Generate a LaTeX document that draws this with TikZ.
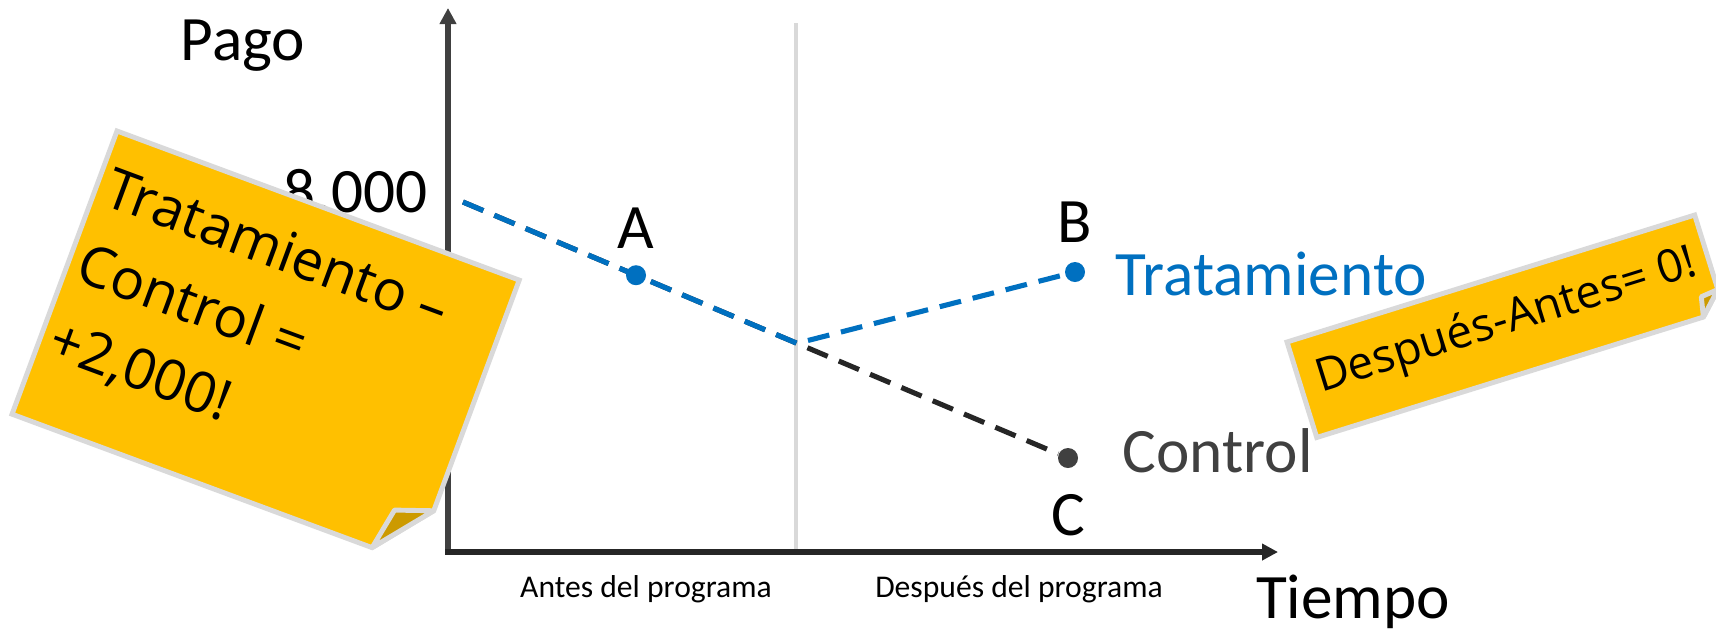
\documentclass[tikz,border=0pt]{standalone}
\usepackage{fontspec}
\setmainfont{Carlito}
\newfontfamily\notefont{Open Sans}
\usepackage{tikz}
\usetikzlibrary{calc,arrows.meta,backgrounds,positioning}
\definecolor{tratblue}{HTML}{0070C0}
\definecolor{axisgray}{HTML}{404040}
\definecolor{ctrlblack}{HTML}{262626}
\definecolor{sepgray}{HTML}{D9D9D9}
\definecolor{notegold}{HTML}{FFC000}
\definecolor{flapgold}{HTML}{CC9A00}
\tikzset{
%Define standard arrow tip
>={Triangle[length=0.16cm,width=0.16cm]},
%Define style for different line styles
axis/.style={->, line width=1.6pt, line cap=rect, axisgray},
period line/.style={line width=1.1pt, sepgray},
treat line/.style={line width=1.45pt, tratblue, dash pattern=on 0.22cm off 0.12cm},
control line/.style={line width=1.45pt, ctrlblack, dash pattern=on 0.22cm off 0.12cm},
dot/.style={circle, inner sep=0pt, minimum size=0.2cm},
%Define style for the texts
big label/.style={inner sep=0pt, font=\fontsize{18}{22}\selectfont},
small label/.style={inner sep=0pt, font=\fontsize{9}{11}\selectfont},
%Sticky notes
sticky/.style={fill=notegold, draw=sepgray, line width=1.4pt, line join=miter},
flap/.style={fill=flapgold, draw=sepgray, line width=1.4pt, line join=round},
note text/.style={inner sep=0pt, align=left},
}

\begin{document}
\begin{tikzpicture}[scale=1.0]
    \useasboundingbox (-4.48,-0.76) rectangle (12.68,5.52);
    %Draw axis
    \coordinate (o) at (0,0);
    \coordinate (y) at (0,5.44);
    \coordinate (x) at (8.30,0);
    \draw[axis] (o) -- (y);
    \draw[axis, ctrlblack] (o) -- (x);
    %Line between before and after
    \coordinate (septop) at (3.48,5.29);
    \coordinate (sepbot) at (3.48,0.03);

    \node[big label, anchor=base] (pago) at (-2.05,4.92) {Pago};
    \node[big label, anchor=base east] (ocho) at (-0.20,3.40) {8,000};
    \node[big label, anchor=base] (tiempo) at (9.05,-0.66) {Tiempo};
    \node[small label, anchor=base] (antes) at (1.98,-0.45) {Antes del programa};
    \node[small label, anchor=base] (despues) at (5.71,-0.45) {Después del programa};

    %%The three points, A and C lie on the control line
    \coordinate (start) at (0.15,3.50);
    \node[dot, fill=axisgray] (cpt) at (6.20,0.94) {};
    \coordinate (kink) at ($(start)!0.552!(cpt)$);
    \node[dot, fill=tratblue] (apt) at ($(start)!0.286!(cpt)$) {};
    \node[dot, fill=tratblue] (bpt) at (6.27,2.80) {};
    \node[big label, above=0.15cm of apt] (alab) {A};
    \node[big label, above=0.18cm of bpt] (blab) {B};
    \node[big label, below=0.25cm of cpt] (clab) {C};
    \node[big label, anchor=base west, text=tratblue] (trat) at (6.67,2.57) {Tratamiento};
    \node[big label, anchor=base west, text=axisgray] (ctrl) at (6.74,0.80) {Control};

    \begin{scope}[on background layer]
    \draw[period line] (sepbot) -- (septop);
    \draw[control line] (start) -- (cpt);
    \draw[treat line] (start) -- (apt.center) -- (kink) -- (bpt.center);
    \end{scope}

    %%%%%%%%%%%%%%%%%%%%%%
    %Sticky notes
    %%%%%%%%%%%%%%%%%%%%%%
    %%Left
    \begin{scope}[shift={(-3.31,4.21)}, rotate=-20.34, transform shape]
    \draw[sticky] (0,0) -- (4.29,0) -- (4.29,-2.46) -- (3.84,-3.02) -- (0,-3.02) -- cycle;
    \draw[flap] (4.29,-2.46) -- (3.92,-2.59) -- (3.84,-3.02) -- cycle;
    \node[note text, anchor=north west, font=\notefont\fontsize{16}{23}\selectfont] (ldiff) at (0.10,-0.32)
    {Tratamiento –\\Control =\\+2,000!};
    \end{scope}
    %%Right
    \begin{scope}[shift={(8.39,2.10)}, rotate=17.3, transform shape]
    \draw[sticky] (0,0) -- (4.27,0) -- (4.27,-0.78) -- (4.05,-1.00) -- (0,-1.00) -- cycle;
    \draw[flap] (4.27,-0.78) -- (4.09,-0.80) -- (4.05,-1.00) -- cycle;
    \node[note text, anchor=base west, font=\notefont\fontsize{13}{16}\selectfont] (rdiff) at (0.17,-0.58)
    {Después-Antes= 0!};
    \end{scope}
\end{tikzpicture}
\end{document}
